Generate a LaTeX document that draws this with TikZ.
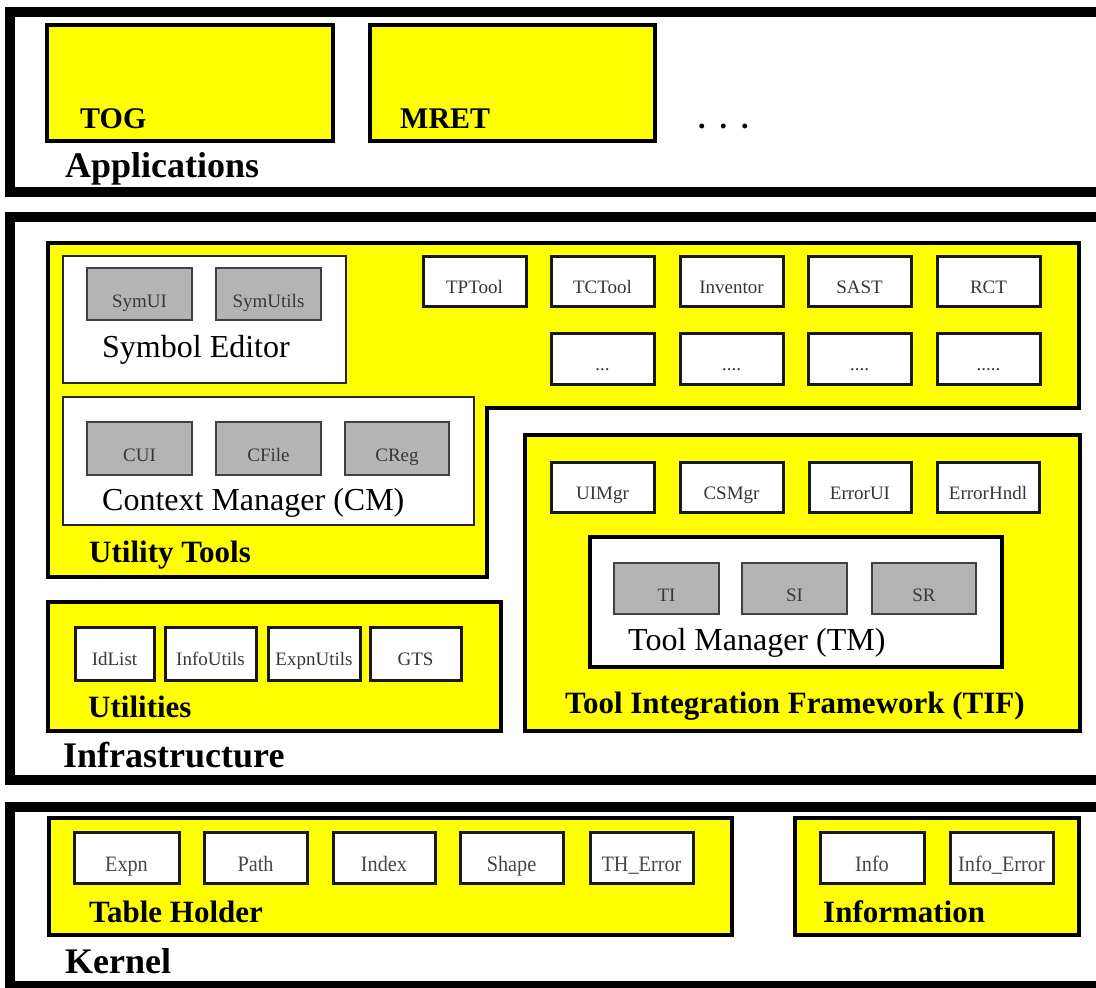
\documentclass[tikz,border=0pt]{standalone}
\usepackage{fontspec}
\setmainfont{Liberation Serif}
\definecolor{hiyellow}{RGB}{255,255,0}
\definecolor{modgrey}{RGB}{180,180,180}
\definecolor{lblgrey}{RGB}{55,55,55}
\definecolor{kergrey}{RGB}{70,70,70}
\newcommand\setfs[1]{\fontsize{#1}{#1}\selectfont}
% box from (x1,y1) to (x2,y2) with a label placed a little below its centre
% #1 name, #2 box style, #3-#6 corners, #7 label style, #8 text
\newcommand\blk[8]{%
  \node[#2, anchor=north west, outer sep=0pt, inner sep=0pt,
        minimum width={#5-#3}, minimum height={#6-#4}] (#1) at (#3,#4) {};
  \node[#7] (#1-t) at (#1.center) {#8};}
\newcommand\narrow[1]{\scalebox{0.92}[1]{#1}}
\tikzset{
  layer/.style={draw=black, line width=9.5pt, fill=white},
  group/.style={draw=black, line width=4.5pt, fill=hiyellow},
  panel/.style={draw=black!85, line width=2.5pt, fill=white},
  mgrbox/.style={draw=black, line width=4pt, fill=white},
  unit/.style={draw=black!90, line width=3pt, fill=white},
  module/.style={draw=black!75, line width=2.5pt, fill=modgrey},
  unitlbl/.style={anchor=base, yshift=-12pt, inner sep=0pt, text=lblgrey, font=\setfs{19}},
  modlbl/.style={anchor=base, yshift=-13pt, inner sep=0pt, text=lblgrey, font=\setfs{19}},
  kerlbl/.style={anchor=base, yshift=-14pt, inner sep=0pt, text=kergrey, font=\setfs{22}},
  layertitle/.style={anchor=base west, inner sep=0pt, font=\setfs{36}\bfseries},
  grouptitle/.style={anchor=base west, inner sep=0pt, font=\setfs{31}\bfseries},
  apptitle/.style={anchor=base west, inner sep=0pt, font=\setfs{30}\bfseries},
  paneltitle/.style={anchor=base west, inner sep=0pt, font=\setfs{32}},
}
\begin{document}
\begin{tikzpicture}[x=1pt, y=-1pt]
\useasboundingbox (0,0) rectangle (1096,988);
\clip (0,0) rectangle (1096,988);

% ---------------- Applications layer ----------------
\draw[layer] (10,12) rectangle (1130,192);
\blk{tog}{group}{47}{25}{333}{141}{inner sep=0pt}{}
\blk{mret}{group}{370}{25}{655}{141}{inner sep=0pt}{}
\node[apptitle] (tog-name) at (80,128) {TOG};
\node[apptitle] (mret-name) at (400,128) {MRET};
\node[apptitle] (more-apps) at (698,128) {.\hspace{14pt}.\hspace{14pt}.};
\node[layertitle] (applications) at (65,177) {Applications};

% ---------------- Infrastructure layer ----------------
\draw[layer] (10,217) rectangle (1130,780);

% Utility Tools (L-shaped group)
\draw[group] (48,243) -- (1079,243) -- (1079,408) -- (487,408)
  -- (487,577) -- (48,577) -- cycle;

\blk{symed}{panel}{63}{256}{346}{383}{inner sep=0pt}{}
\blk{symui}{module}{87}{268}{192}{320}{modlbl}{SymUI}
\blk{symutils}{module}{216}{268}{321}{320}{modlbl}{SymUtils}
\node[paneltitle] (symed-name) at (102,357) {Symbol Editor};

\blk{cm}{panel}{63}{397}{474}{525}{inner sep=0pt}{}
\blk{cui}{module}{87}{422}{192}{475}{modlbl}{CUI}
\blk{cfile}{module}{216}{422}{321}{475}{modlbl}{CFile}
\blk{creg}{module}{345}{422}{449}{475}{modlbl}{CReg}
\node[paneltitle] (cm-name) at (102,510) {Context Manager (CM)};

\blk{tptool}{unit}{423}{256}{526}{306}{unitlbl}{TPTool}
\blk{tctool}{unit}{551}{256}{654}{306}{unitlbl}{TCTool}
\blk{inventor}{unit}{680}{256}{783}{306}{unitlbl}{Inventor}
\blk{sast}{unit}{808}{256}{911}{306}{unitlbl}{SAST}
\blk{rct}{unit}{937}{256}{1040}{306}{unitlbl}{RCT}
\blk{toolA}{unit}{551}{333}{654}{384}{unitlbl}{...}
\blk{toolB}{unit}{680}{333}{783}{384}{unitlbl}{....}
\blk{toolC}{unit}{808}{333}{911}{384}{unitlbl}{....}
\blk{toolD}{unit}{937}{333}{1040}{384}{unitlbl}{.....}
\node[grouptitle] (utiltools-name) at (89,562) {Utility Tools};

% Utilities
\blk{utilities}{group}{48}{602}{501}{731}{inner sep=0pt}{}
\blk{idlist}{unit}{75}{627}{154}{680}{unitlbl}{IdList}
\blk{infoutils}{unit}{165}{627}{256}{680}{unitlbl}{InfoUtils}
\blk{expnutils}{unit}{268}{627}{360}{680}{unitlbl}{ExpnUtils}
\blk{gts}{unit}{370}{627}{461}{680}{unitlbl}{GTS}
\node[grouptitle] (utilities-name) at (88,717) {Utilities};

% Tool Integration Framework
\blk{tif}{group}{525}{435}{1080}{731}{inner sep=0pt}{}
\blk{uimgr}{unit}{551}{462}{654}{512}{unitlbl}{UIMgr}
\blk{csmgr}{unit}{680}{462}{783}{512}{unitlbl}{CSMgr}
\blk{errorui}{unit}{809}{462}{911}{512}{unitlbl}{ErrorUI}
\blk{errorhndl}{unit}{937}{462}{1039}{512}{unitlbl}{ErrorHndl}
\blk{tm}{mgrbox}{590}{537}{1002}{667}{inner sep=0pt}{}
\blk{ti}{module}{614}{563}{719}{614}{modlbl}{TI}
\blk{si}{module}{742}{563}{847}{614}{modlbl}{SI}
\blk{sr}{module}{872}{563}{976}{614}{modlbl}{SR}
\node[paneltitle] (tm-name) at (628,650) {Tool Manager (TM)};
\node[grouptitle] (tif-name) at (565,713) {Tool Integration Framework (TIF)};

\node[layertitle] (infrastructure) at (63,767) {Infrastructure};

% ---------------- Kernel layer ----------------
\draw[layer] (10,807) rectangle (1130,986);
\blk{tableholder}{group}{49}{818}{732}{935}{inner sep=0pt}{}
\blk{expn}{unit}{74}{832}{179}{883}{kerlbl}{\narrow{Expn}}
\blk{path}{unit}{204}{832}{307}{883}{kerlbl}{\narrow{Path}}
\blk{index}{unit}{333}{832}{435}{883}{kerlbl}{\narrow{Index}}
\blk{shape}{unit}{460}{832}{563}{883}{kerlbl}{\narrow{Shape}}
\blk{therror}{unit}{590}{832}{693}{883}{kerlbl}{\narrow{TH\_Error}}
\node[grouptitle] (tableholder-name) at (89,922) {Table Holder};

\blk{information}{group}{795}{818}{1079}{935}{inner sep=0pt}{}
\blk{info}{unit}{820}{832}{924}{883}{kerlbl}{\narrow{Info}}
\blk{infoerror}{unit}{950}{832}{1053}{883}{kerlbl}{\narrow{Info\_Error}}
\node[grouptitle] (information-name) at (823,922) {Information};

\node[layertitle] (kernel) at (65,973) {Kernel};
\end{tikzpicture}
\end{document}
